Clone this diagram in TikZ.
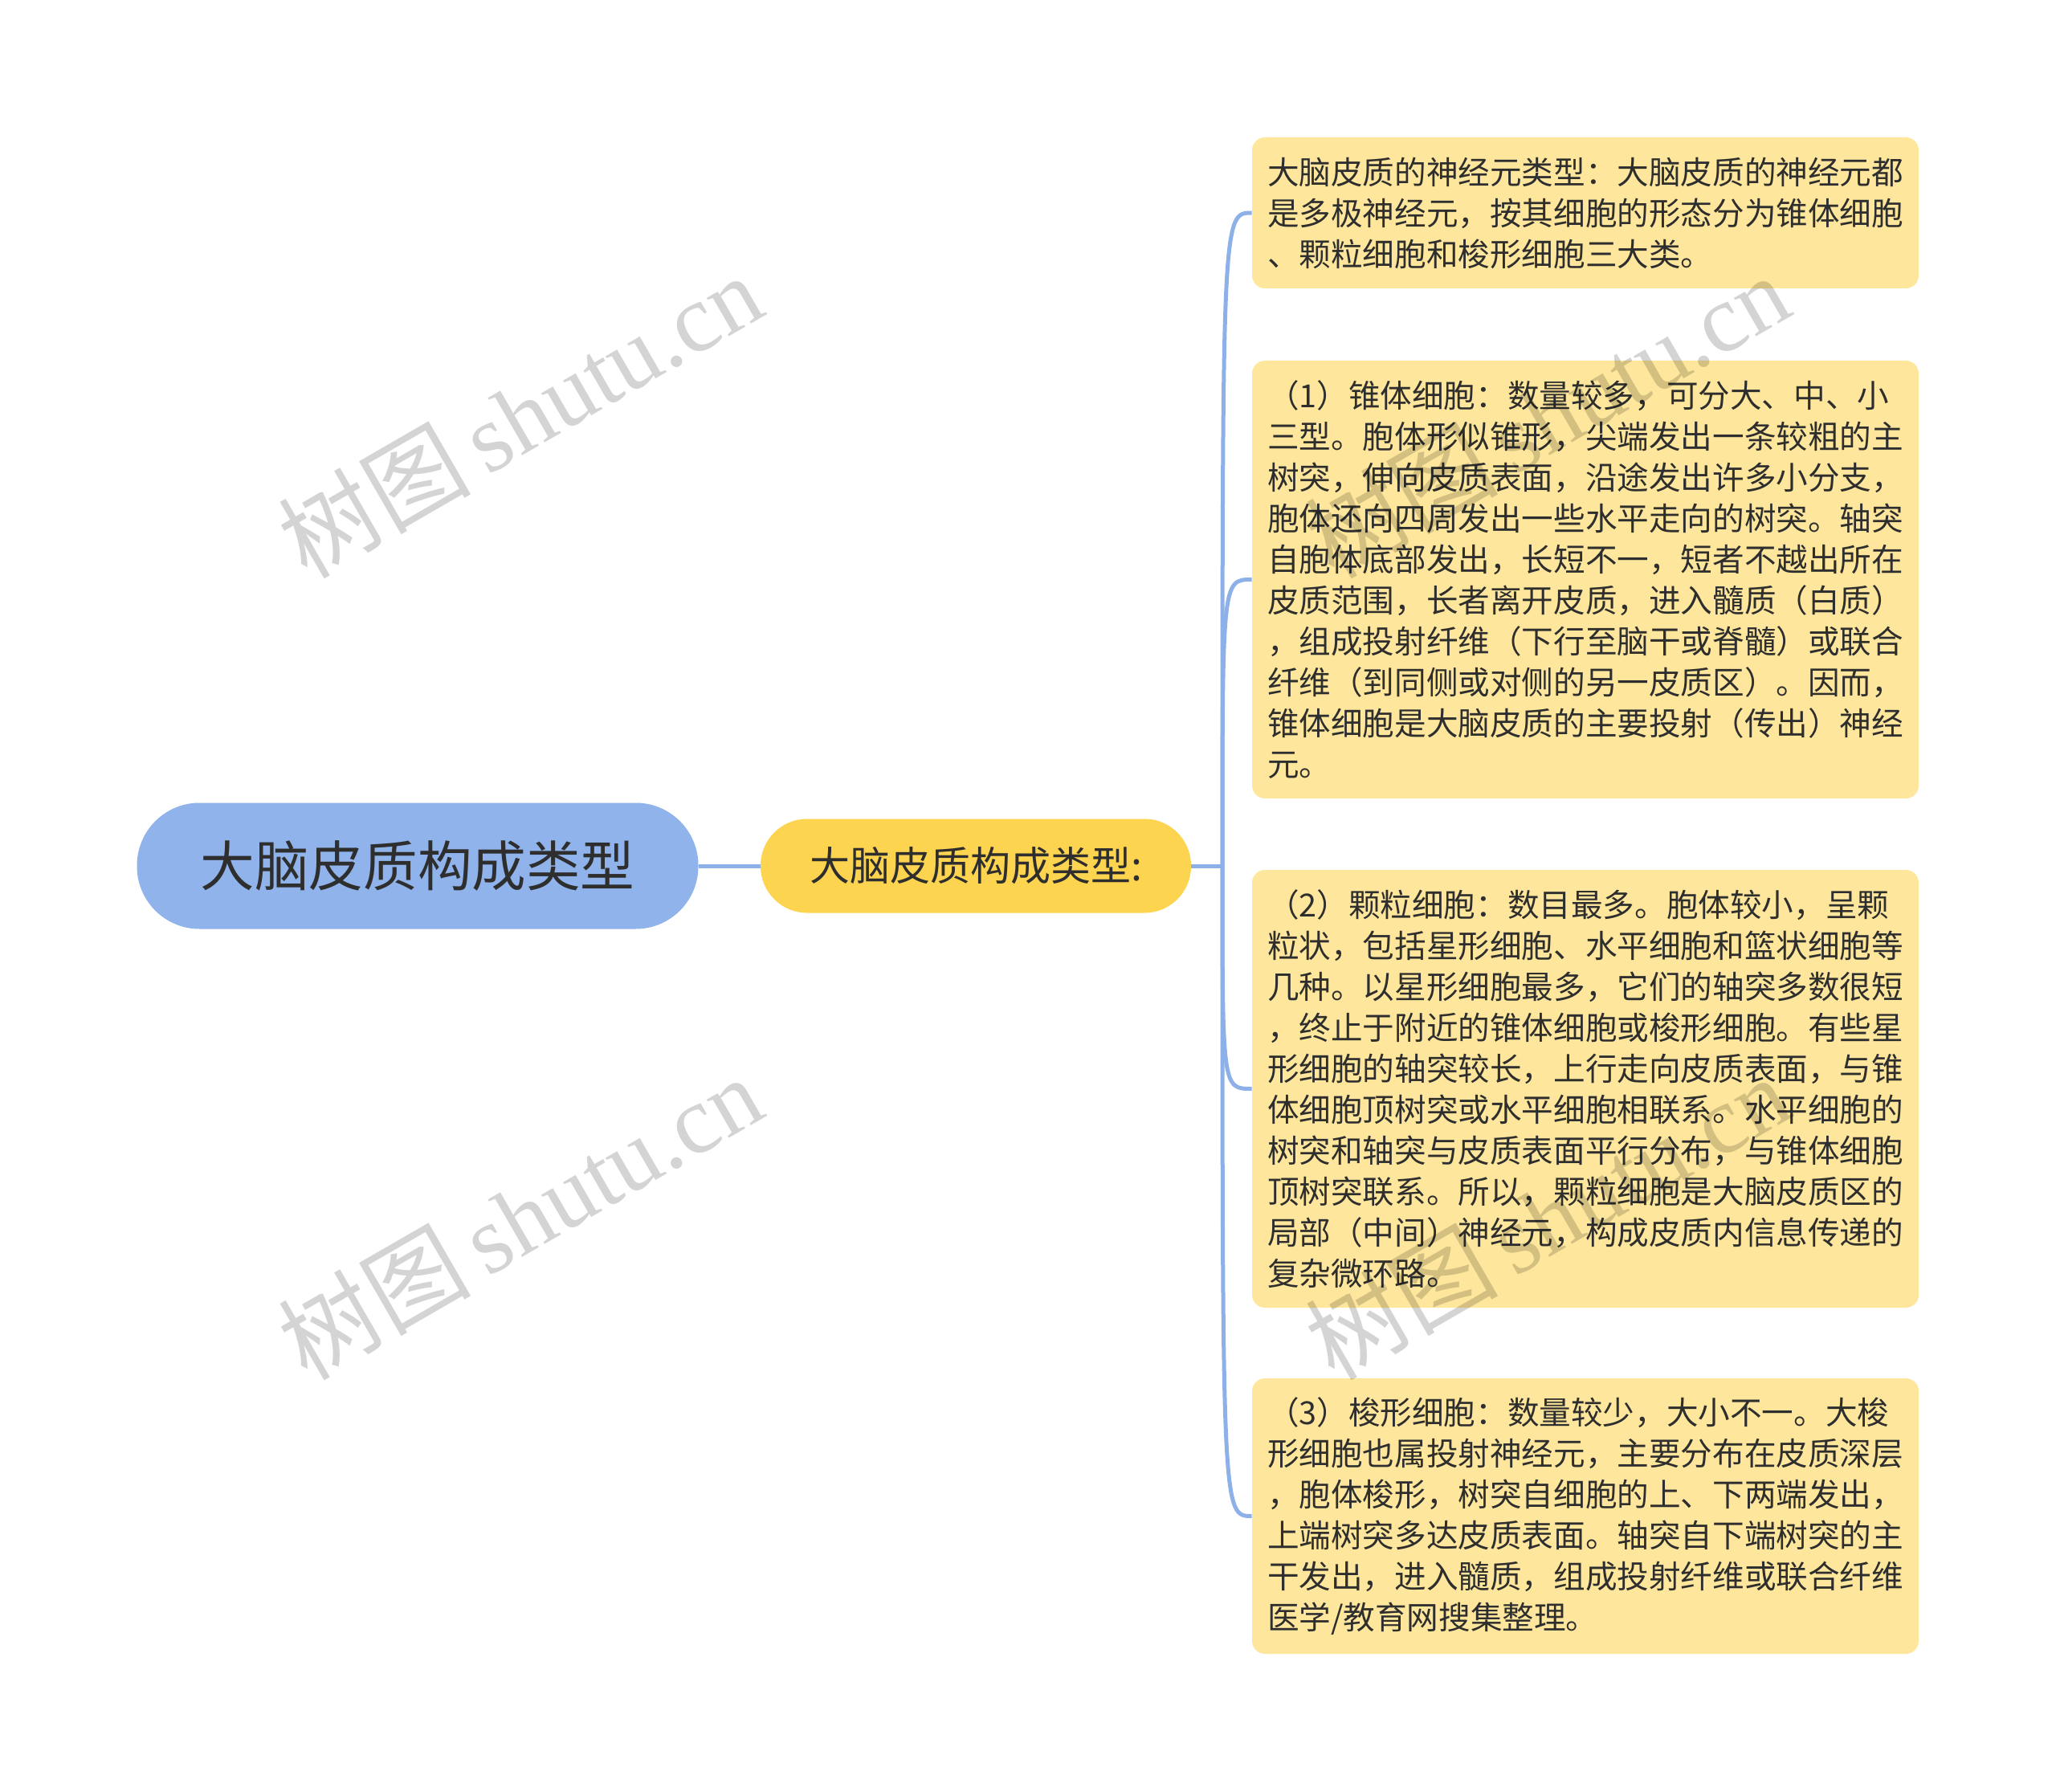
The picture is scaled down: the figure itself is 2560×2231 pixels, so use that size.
\documentclass[tikz,border=0pt]{standalone}
\usepackage{fontspec}
\setmainfont{Noto Sans CJK SC}
\newfontfamily\wmlatin{Liberation Serif}
\definecolor{rootblue}{HTML}{8FB3EA}
\definecolor{midyellow}{HTML}{FDD44F}
\definecolor{boxyellow}{HTML}{FEE79C}
\definecolor{linecol}{HTML}{8EB0E8}
\definecolor{txt}{HTML}{2E2E2E}
\tikzset{
  rootbox/.style={fill=rootblue, rounded corners=39pt, minimum width=349.5pt, minimum height=78.5pt,
    inner sep=0pt, text=txt, font=\fontsize{33.8pt}{40pt}\selectfont},
  midbox/.style={fill=midyellow, rounded corners=29pt, minimum width=268pt, minimum height=58.5pt,
    inner sep=0pt, text=txt, font=\fontsize{25pt}{30pt}\selectfont},
  leafbox/.style={fill=boxyellow, rounded corners=8pt, minimum width=415pt, text width=396pt,
    inner xsep=9.5pt, inner ysep=0pt, align=left, text=txt, font=\fontsize{19.8pt}{25.5pt}\selectfont},
  conn/.style={draw=linecol, line width=2.5pt},
  wmark/.style={rotate=30, text=black, text opacity=0.17, font=\fontsize{60pt}{60pt}\selectfont, inner sep=0pt}
}
\begin{document}
\begin{tikzpicture}[x=0.5pt,y=-0.5pt]
\useasboundingbox (0,0) rectangle (2560,2231);
\fill[white] (0,0) rectangle (2560,2231);

\node[rootbox] (root) at (520,1078) {大脑皮质构成类型};
\node[midbox] (mid) at (1215,1078) {大脑皮质构成类型:};

\node[leafbox, minimum height=94pt] (b1) at (1974,265) {大脑皮质的神经元类型：大脑皮质的神经元都\\是多极神经元，按其细胞的形态分为锥体细胞\\、颗粒细胞和梭形细胞三大类。};
\node[leafbox, minimum height=272.5pt] (b2) at (1974,721.5) {（1）锥体细胞：数量较多，可分大、中、小\\三型。胞体形似锥形，尖端发出一条较粗的主\\树突，伸向皮质表面，沿途发出许多小分支，\\胞体还向四周发出一些水平走向的树突。轴突\\自胞体底部发出，长短不一，短者不越出所在\\皮质范围，长者离开皮质，进入髓质（白质）\\，组成投射纤维（下行至脑干或脊髓）或联合\\纤维（到同侧或对侧的另一皮质区）。因而，\\锥体细胞是大脑皮质的主要投射（传出）神经\\元。};
\node[leafbox, minimum height=272.5pt] (b3) at (1974,1355.5) {（2）颗粒细胞：数目最多。胞体较小，呈颗\\粒状，包括星形细胞、水平细胞和篮状细胞等\\几种。以星形细胞最多，它们的轴突多数很短\\，终止于附近的锥体细胞或梭形细胞。有些星\\形细胞的轴突较长，上行走向皮质表面，与锥\\体细胞顶树突或水平细胞相联系。水平细胞的\\树突和轴突与皮质表面平行分布，与锥体细胞\\顶树突联系。所以，颗粒细胞是大脑皮质区的\\局部（中间）神经元，构成皮质内信息传递的\\复杂微环路。};
\node[leafbox, minimum height=171.5pt] (b4) at (1974,1887.5) {（3）梭形细胞：数量较少，大小不一。大梭\\形细胞也属投射神经元，主要分布在皮质深层\\，胞体梭形，树突自细胞的上、下两端发出，\\上端树突多达皮质表面。轴突自下端树突的主\\干发出，进入髓质，组成投射纤维或联合纤维\\医学/教育网搜集整理。};

\coordinate (J) at (1522,1078);
\draw[conn] (root.east) -- (mid.west);
\draw[conn] (mid.east) -- (J);
\foreach \b in {b1,b2,b3,b4}{
  \draw[conn] (J) .. controls (J |- \b.west) and (J |- \b.west) .. (\b.west);
}

\node[wmark] (w1) at (647,517) {树图\,{\wmlatin shutu.cn}};
\node[wmark] (w2) at (647,1515) {树图\,{\wmlatin shutu.cn}};
\node[wmark] (w3) at (1926,517) {树图\,{\wmlatin shutu.cn}};
\node[wmark] (w4) at (1926,1515) {树图\,{\wmlatin shutu.cn}};
\end{tikzpicture}
\end{document}
